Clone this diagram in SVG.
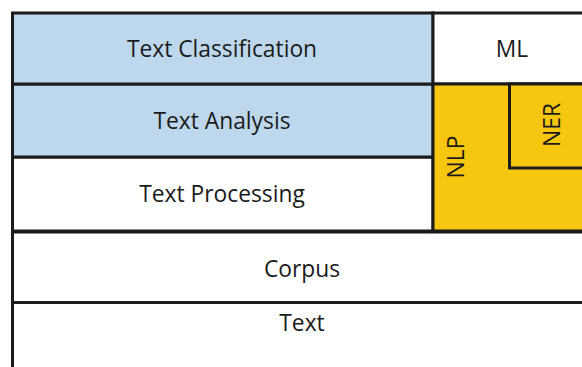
<svg xmlns="http://www.w3.org/2000/svg" width="582" height="367" viewBox="0 0 582 367">
  <style>
    .box { stroke: #1b1b1b; stroke-width: 3; }
    .blue { fill: #bdd7ec; }
    .white { fill: #ffffff; }
    .yellow { fill: #f7c611; }
    .lbl { font-family: "Open Sans", "Noto Sans", sans-serif; font-size: 22.8px; fill: #1b1b1b; text-anchor: middle; }
  </style>
  <rect x="0" y="0" width="582" height="367" fill="#ffffff"/>
  <g id="text">
    <rect class="box white" x="12.5" y="302.5" width="600" height="100"/>
    <text class="lbl" x="302" y="331">Text</text>
  </g>
  <g id="corpus">
    <rect class="box white" x="12.5" y="232" width="600" height="70.5"/>
    <text class="lbl" x="302" y="276.5">Corpus</text>
  </g>
  <g id="text-processing">
    <rect class="box white" x="12.5" y="157" width="420.5" height="74"/>
    <text class="lbl" x="222" y="202">Text Processing</text>
  </g>
  <g id="text-analysis">
    <rect class="box blue" x="12.5" y="84" width="420.5" height="73"/>
    <text class="lbl" x="222" y="129">Text Analysis</text>
  </g>
  <g id="text-classification">
    <rect class="box blue" x="12.5" y="13" width="420.5" height="71"/>
    <text class="lbl" x="222" y="56.5">Text Classification</text>
  </g>
  <g id="ml">
    <rect class="box white" x="433" y="13" width="200" height="71"/>
    <text class="lbl" x="512" y="56.5">ML</text>
  </g>
  <g id="nlp">
    <rect class="box yellow" x="433" y="84" width="200" height="147"/>
    <text class="lbl" transform="translate(463.5 157) rotate(-90)">NLP</text>
  </g>
  <g id="ner">
    <rect class="box yellow" x="509.5" y="84" width="120" height="84"/>
    <text class="lbl" transform="translate(560 125) rotate(-90)">NER</text>
  </g>
  <g id="connectors"></g>
</svg>
